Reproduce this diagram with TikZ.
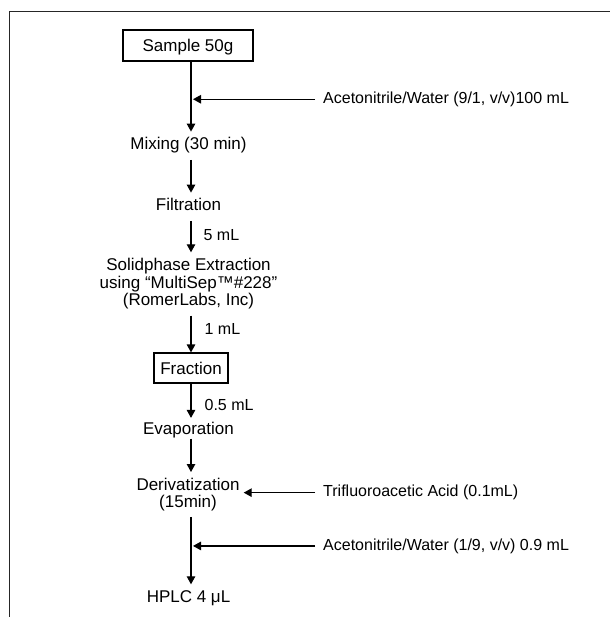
\documentclass[tikz,border=0pt]{standalone}
\usepackage{fontspec}
\setmainfont{Liberation Sans}
\usetikzlibrary{arrows.meta}
\begin{document}
\begin{tikzpicture}[x=1pt,y=-1pt,
  arr/.style={line width=1.2pt, -{Triangle[width=8.5pt,length=8pt]}},
  frameline/.style={line width=1.4pt, black!85},
  mainbox/.style={draw, line width=1.2pt, font=\fontsize{17}{20}\selectfont, text height=12.2pt, text depth=0pt, inner sep=0pt},
  maintext/.style={font=\fontsize{17}{20}\selectfont, text height=12.2pt, text depth=3.6pt, inner xsep=4pt, inner ysep=6pt, anchor=base},
  multitext/.style={font=\fontsize{17}{17.5}\selectfont, align=center, inner xsep=4pt, inner ysep=6pt, anchor=north},
  sidelabel/.style={font=\fontsize{16}{19}\selectfont, text height=11.5pt, text depth=3.4pt, inner xsep=8pt, inner ysep=0pt, anchor=base west},
  vol/.style={font=\fontsize{16}{19}\selectfont, text height=11.5pt, text depth=0pt, inner sep=0pt, anchor=west},
]
\useasboundingbox (0,0) rectangle (610,617);
% frame
\draw[frameline] (9.5,617) -- (9.5,11.5) -- (610,11.5);
% column
\coordinate (col) at (191,0);
% main nodes
\node[mainbox, minimum width=130pt, minimum height=31pt] (sample) at (188,45.5) {Sample 50g};
\node[maintext] (mix) at (188.5,150) {Mixing (30 min)};
\node[maintext] (filt) at (188.5,211) {Filtration};
\node[multitext] (spe) at (188.5,252.3) {Solidphase Extraction\\using “MultiSep™\#228”\\(RomerLabs, Inc)};
\node[mainbox, minimum width=74pt, minimum height=30pt] (frac) at (191,368) {Fraction};
\node[maintext, text depth=0pt, inner ysep=4pt] (evap) at (188.5,434.3) {Evaporation};
\node[multitext, font=\fontsize{17}{16.7}\selectfont] (deriv) at (188,472) {Derivatization\\(15min)};
\node[maintext] (hplc) at (188.5,602.7) {HPLC 4 μL};
% side inputs
\node[sidelabel] (acn1) at (315,103.3) {Acetonitrile/Water (9/1, v/v)100 mL};
\node[sidelabel] (tfa) at (315,496.7) {Trifluoroacetic Acid (0.1mL)};
\node[sidelabel] (acn2) at (315,550) {Acetonitrile/Water (1/9, v/v) 0.9 mL};
\coordinate (j1) at ([xshift=2pt]col |- acn1.west);
\coordinate (j2) at ([xshift=2pt]col |- acn2.west);
% connectors
\draw[arr] (sample.south -| col) -- (mix.north -| col);
\draw[arr] (acn1.west) -- (j1);
\draw[arr] (mix.south -| col) -- (filt.north -| col);
\draw[arr] (filt.south -| col) -- node[vol, pos=0.45, xshift=12pt] {5 mL} (spe.north -| col);
\draw[arr] (spe.south -| col) -- node[vol, pos=0.37, xshift=13pt] {1 mL} (frac.north);
\draw[arr] (frac.south) -- node[vol, pos=0.61, xshift=13pt] {0.5 mL} (evap.north -| col);
\draw[arr] (evap.south -| col) -- (deriv.north -| col);
\draw[arr] (tfa.west) -- (tfa.west -| deriv.east);
\draw[arr] (deriv.south -| col) -- (hplc.north -| col);
\draw[arr] (acn2.west) -- (j2);
\end{tikzpicture}
\end{document}
